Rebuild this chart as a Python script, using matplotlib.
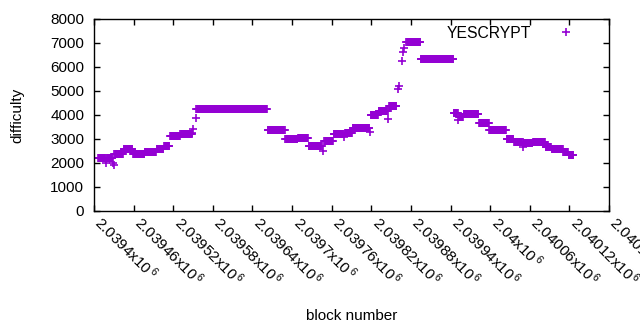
import numpy as np
import matplotlib
matplotlib.use("Agg")
import matplotlib.pyplot as plt
from matplotlib.transforms import ScaledTranslation

plt.rcParams['font.family'] = ['Liberation Sans', 'DejaVu Sans']
plt.rcParams['mathtext.fontset'] = 'custom'
plt.rcParams['mathtext.rm'] = 'Liberation Sans'
plt.rcParams['mathtext.it'] = 'Liberation Sans'

# Runs of constant difficulty: first block, last block, difficulty
run_start = [2039406, 2039418, 2039419, 2039429, 2039430, 2039431, 2039445, 2039459,
             2039477, 2039495, 2039506, 2039515, 2039531, 2039549, 2039550, 2039554,
             2039555, 2039663, 2039690, 2039709, 2039725, 2039747, 2039749, 2039763,
             2039779, 2039780, 2039792, 2039818, 2039819, 2039831, 2039846, 2039847,
             2039861, 2039862, 2039867, 2039868, 2039870, 2039873, 2039895, 2039945,
             2039952, 2039953, 2039960, 2039983, 2039999, 2040025, 2040036, 2040050,
             2040051, 2040065, 2040084, 2040093, 2040111, 2040119]
run_end = [2039417, 2039418, 2039428, 2039429, 2039430, 2039444, 2039458, 2039476,
           2039494, 2039505, 2039514, 2039530, 2039548, 2039549, 2039550, 2039554,
           2039662, 2039689, 2039708, 2039724, 2039745, 2039747, 2039762, 2039778,
           2039779, 2039791, 2039817, 2039818, 2039830, 2039845, 2039846, 2039858,
           2039861, 2039862, 2039867, 2039868, 2039870, 2039894, 2039944, 2039951,
           2039952, 2039959, 2039982, 2039998, 2040024, 2040035, 2040049, 2040050,
           2040064, 2040083, 2040092, 2040110, 2040118, 2040126]
run_value = [2200, 2000, 2220, 2010, 1920, 2360, 2580, 2360,
             2440, 2570, 2720, 3125, 3200, 3250, 3400, 3860,
             4235, 3360, 3000, 3030, 2700, 2500, 2930, 3210,
             3070, 3260, 3445, 3300, 4000, 4167, 3820, 4390,
             5083, 5210, 6250, 6610, 6780, 7030, 6320, 4070,
             3790, 3930, 4030, 3650, 3375, 2990, 2860, 2680,
             2820, 2890, 2680, 2580, 2440, 2330]

series_name = "YESCRYPT"
x_ticks = [2039400 + 60 * i for i in range(14)]
y_ticks = [0, 1000, 2000, 3000, 4000, 5000, 6000, 7000, 8000]

blocks = np.concatenate([np.arange(s, e + 1) for s, e in zip(run_start, run_end)])
diffs = np.concatenate([np.full(e - s + 1, v) for s, e, v in zip(run_start, run_end, run_value)])

fig = plt.figure(figsize=(6.4, 3.3), dpi=100)
ax = fig.add_axes([94 / 640, 1 - 211 / 330, 515 / 640, 192 / 330])

color = '#9400D3'
ax.plot(blocks, diffs, linestyle='none', marker='+', markersize=6, markeredgewidth=1.2,
        color=color, label=series_name)

ax.set_xlim(2039400, 2040180)
ax.set_ylim(0, 8000)
ax.set_xticks(x_ticks)
ax.set_xticklabels([f"{v / 1e6:g}x10$\\,^{{6}}$" for v in x_ticks], rotation=-45,
                   ha='left', va='center', rotation_mode='anchor')
ax.set_yticks(y_ticks)
ax.set_yticklabels([str(v) for v in y_ticks])
ax.tick_params(direction='in', top=True, right=True, length=4, width=1,
               labelsize=11, colors='black')
ax.tick_params(axis='x', pad=6)
ax.tick_params(axis='y', pad=7)
off = ScaledTranslation(4 / 100, 0, fig.dpi_scale_trans)
for lab in ax.get_xticklabels():
    lab.set_transform(lab.get_transform() + off)
for sp in ax.spines.values():
    sp.set_linewidth(1)

ax.set_xlabel("block number", fontsize=11, labelpad=14.5)
ax.set_ylabel("difficulty", fontsize=11, labelpad=19)

leg = ax.legend(loc='upper right', bbox_to_anchor=(0.963, 0.965), frameon=False,
                markerfirst=False, fontsize=11.3, borderpad=0, borderaxespad=0,
                handlelength=3, handletextpad=0.75, markerscale=1)

fig.savefig("out.png", dpi=100)
